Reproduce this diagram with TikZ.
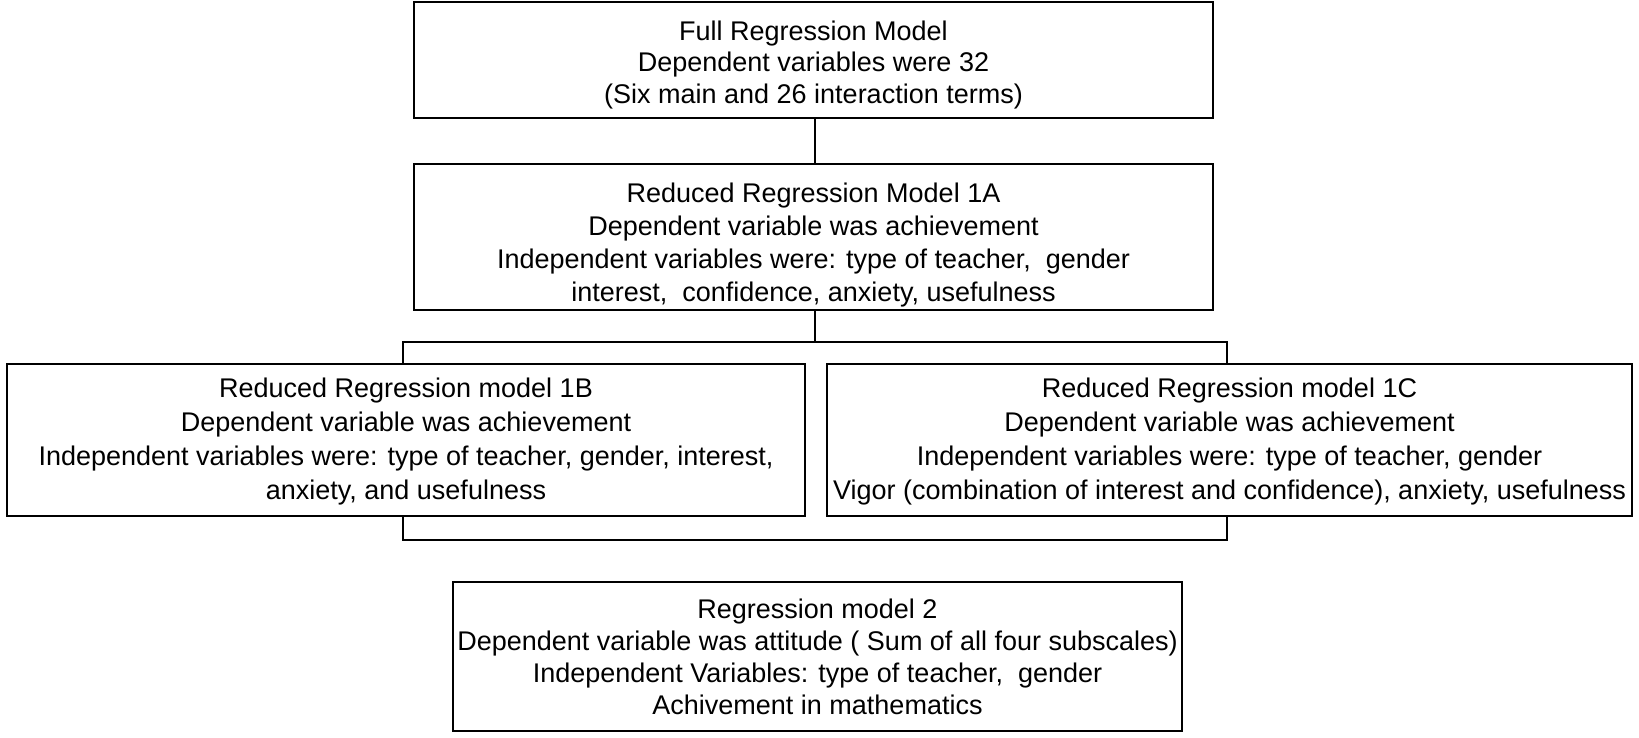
\documentclass[tikz,border=0pt]{standalone}
\usepackage{fontspec}
\setmainfont{Liberation Sans}
\begin{document}
\begin{tikzpicture}[x=1pt,y=-1pt,
  frame/.style={draw=black,line width=2.2pt,inner sep=0pt},
  txt/.style={align=center,inner sep=0pt},
  link/.style={draw=black,line width=2.2pt}]
\useasboundingbox (0,0) rectangle (1639,738);
% frames
\node[frame,minimum width=799pt,minimum height=116pt] (full) at (813.5,60) {};
\node[frame,minimum width=799pt,minimum height=146pt] (ma) at (813.5,237) {};
\node[frame,minimum width=798pt,minimum height=152pt] (mb) at (406,440) {};
\node[frame,minimum width=805pt,minimum height=152pt] (mc) at (1229.5,440) {};
\node[frame,minimum width=729pt,minimum height=149pt] (m2) at (817.5,656.5) {};
% texts
\node[txt,font=\fontsize{27}{31.5}\selectfont] (fulltext) at ([yshift=-5pt]full.center)
  {Full Regression Model\\Dependent variables were 32\\(Six main and 26 interaction terms)};
\node[txt,font=\fontsize{27}{33}\selectfont] (matext) at ([yshift=-8.5pt]ma.center)
  {Reduced Regression Model 1A\\Dependent variable was achievement\\Independent variables were: type of teacher,\ \ gender\\interest,\ \ confidence, anxiety, usefulness};
\node[txt,font=\fontsize{27}{34}\selectfont] (mbtext) at ([yshift=-2pt]mb.center)
  {Reduced Regression model 1B\\Dependent variable was achievement\\Independent variables were: type of teacher, gender, interest,\\anxiety, and usefulness};
\node[txt,font=\fontsize{27}{34}\selectfont] (mctext) at ([yshift=-2pt]mc.center)
  {Reduced Regression model 1C\\Dependent variable was achievement\\Independent variables were: type of teacher, gender\\Vigor (combination of interest and confidence), anxiety, usefulness};
\node[txt,font=\fontsize{27}{32}\selectfont] (m2text) at (m2.center)
  {Regression model 2\\Dependent variable was attitude ( Sum of all four subscales)\\Independent Variables: type of teacher,\ \ gender\\Achivement in mathematics};
% connectors
\coordinate (split) at (815,342);
\coordinate (jl) at (403,342);
\coordinate (jr) at (1227,342);
\coordinate (bl) at (403,540);
\coordinate (br) at (1227,540);
\draw[link] (full.south -| split) -- (ma.north -| split);
\draw[link] (ma.south -| split) -- (split);
\draw[link] (jl |- mb.north) -- (jl) -- (jr) -- (jr |- mc.north);
\draw[link] (jl |- mb.south) -- (bl) -- (br) -- (jr |- mc.south);
\end{tikzpicture}
\end{document}
